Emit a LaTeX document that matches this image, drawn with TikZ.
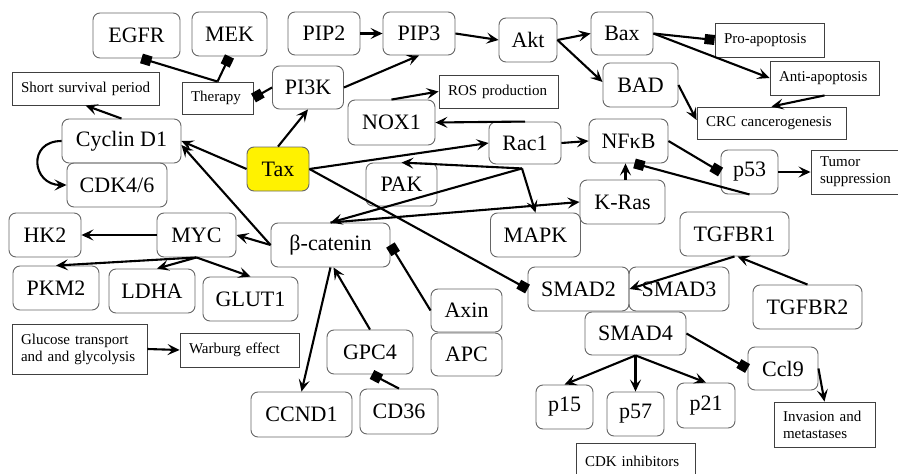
\documentclass[tikz,border=0pt]{standalone}
\usepackage{fontspec}
\setmainfont{Liberation Serif}
\usetikzlibrary{arrows.meta}
\begin{document}
\begin{tikzpicture}[x=1pt,y=-1pt,
  box/.style={draw=black!60, line width=0.9pt, rounded corners=7pt, inner sep=0pt,
              font=\fontsize{22}{24}\selectfont, align=center},
  sz/.style 2 args={minimum width=#1pt, minimum height=#2pt},
  tag/.style={draw=black!75, line width=0.9pt, inner xsep=9pt, inner ysep=0pt,
              font=\fontsize{15}{17}\selectfont, align=left},
  tw/.style 2 args={text width=#1pt, minimum height=#2pt},
  link/.style={line width=2.1pt, -{Stealth[length=12pt,width=11pt,inset=5pt]}},
  block/.style={line width=2.1pt, -{Square[length=10pt,width=10pt]}},
]
\useasboundingbox (0,0) rectangle (898,474);

% signalling molecules
\node[box,sz={87}{45}] (egfr) at (136.5,35.5) {EGFR};
\node[box,sz={75}{44}] (mek) at (229.5,34) {MEK};
\node[box,sz={72}{43}] (pip2) at (324,33.5) {PIP2};
\node[box,sz={72}{43}] (pip3) at (419,33.5) {PIP3};
\node[box,sz={58}{44}] (akt) at (528,40) {Akt};
\node[box,sz={62}{43}] (bax) at (622,33.5) {Bax};
\node[box,sz={75}{44}] (bad) at (640.5,85) {BAD};
\node[box,sz={71}{43}] (pi3k) at (308,87.5) {PI3K};
\node[box,sz={87}{45}] (nox) at (391.5,122.5) {NOX1};
\node[box,sz={72}{42}] (rac) at (525,143) {Rac1};
\node[box,sz={79}{44}] (nfkb) at (628.5,141) {NFκB};
\node[box,sz={85}{44}] (kras) at (622.5,202) {K-Ras};
\node[box,sz={90}{44}] (mapk) at (535.5,235) {MAPK};
\node[box,sz={71}{43}] (pak) at (401.5,184.5) {PAK};
\node[box,sz={62}{44},fill=yellow] (tax) at (278,169) {Tax};
\node[box,sz={119}{44}] (bcat) at (330.5,245) {β-catenin};
\node[box,sz={79}{44}] (myc) at (196.5,235) {MYC};
\node[box,sz={119}{44}] (cyc) at (121.5,141) {Cyclin D1};
\node[box,sz={100}{44}] (cdk) at (117,185) {CDK4/6};
\node[box,sz={72}{44}] (hk2) at (45,235) {HK2};
\node[box,sz={86}{44}] (pkm2) at (56,288) {PKM2};
\node[box,sz={86}{44}] (ldha) at (152,291) {LDHA};
\node[box,sz={95}{44}] (glut) at (250.5,299) {GLUT1};
\node[box,sz={57}{44}] (p53) at (749.5,172) {p53};
\node[box,sz={109}{44}] (tgfbr1) at (734.5,234) {TGFBR1};
\node[box,sz={100}{44}] (smad3) at (679,289) {SMAD3};
\node[box,sz={101}{44}] (smad2) at (578.5,289) {SMAD2};
\node[box,sz={109}{44}] (tgfbr2) at (807.5,307) {TGFBR2};
\node[box,sz={101}{43}] (smad4) at (635.5,333.5) {SMAD4};
\node[box,sz={71}{43}] (axin) at (466.5,310.5) {Axin};
\node[box,sz={71}{43}] (apc) at (466.5,354.5) {APC};
\node[box,sz={86}{44}] (gpc4) at (370,352) {GPC4};
\node[box,sz={78}{45}] (cd36) at (399,411.5) {CD36};
\node[box,sz={101}{45}] (ccnd1) at (301.5,414.5) {CCND1};
\node[box,sz={57}{44}] (p15) at (564.5,407) {p15};
\node[box,sz={57}{44}] (p57) at (635.5,414) {p57};
\node[box,sz={58}{45}] (p21) at (706,405.5) {p21};
\node[box,sz={70}{43}] (ccl9) at (783,368.5) {Ccl9};

% outcomes
\node[tag,tw={129}{33}] (ssp) at (85.5,88.5) {\mbox{Short survival period}};
\node[tag,tw={53}{32}] (ther) at (217.5,98) {\mbox{Therapy}};
\node[tag,tw={101}{33}] (ros) at (498.5,91.5) {\mbox{ROS production}};
\node[tag,tw={91}{34}] (pro) at (769.5,40) {\mbox{Pro-apoptosis}};
\node[tag,tw={91}{34}] (anti) at (824.5,78) {\mbox{Anti-apoptosis}};
\node[tag,tw={131}{32}] (crc) at (771.5,123) {\mbox{CRC cancerogenesis}};
\node[tag,tw={73}{44}] (tum) at (856.5,172) {\mbox{Tumor}\\\mbox{suppression}};
\node[tag,tw={117}{50}] (glu) at (79.5,349) {\mbox{Glucose transport}\\\mbox{and and glycolysis}};
\node[tag,tw={101}{34}] (war) at (239.5,350) {\mbox{Warburg effect}};
\node[tag,tw={83}{45}] (inv) at (824.5,424.5) {\mbox{Invasion and}\\\mbox{metastases}};
\node[tag,tw={101}{37}] (cdki) at (635.5,461.5) {\mbox{CDK inhibitors}};

% PI3K / Akt branch
\draw[link] (pip2.east) -- (pip3.west);
\draw[link] (pip3.east) -- (akt.west);
\draw[link] (akt.east) -- (bax.west);
\draw[link] (akt.east) -- ([yshift=3pt]bad.west);
\draw[block] (bax.east) -- (pro.west);
\draw[link] (bax.east) -- (anti.west);
\draw[link] (bad.east) -- ([yshift=3pt]crc.west);
\draw[link] (anti.south) -- (crc.north);
\draw[link] (pi3k.east) -- (pip3.south);
\draw[block] (pi3k.west) -- (ther.east);
\draw[block] (ther.north) -- ([xshift=5pt]egfr.south);
\draw[block] (ther.north) -- (mek.south);
\draw[link] (tax.north) -- (pi3k.south);

% cell cycle
\draw[link] (tax.west) -- (cyc.east);
\draw[link] (bcat.west) -- ([yshift=-4pt]cyc.east);
\draw[link] (cyc.north) -- (ssp.south);
\draw[link] (cyc.west) to[out=180,in=180,looseness=2] (cdk.west);

% Rac1 branch
\draw[link] (nox.north) -- (ros.west);
\draw[link] (rac.north) -- (nox.east);
\draw[link] (tax.east) -- (rac.west);
\draw[link] (rac.east) -- (nfkb.west);
\coordinate (hub) at ([xshift=-3pt,yshift=-4pt]rac.south);
\draw[link] (hub) -- (pak.north);
\draw[link] (hub) -- (mapk.north);
\draw[link] (hub) -- (bcat.north);
\draw[link] (bcat.north) -- (kras.west);
\draw[link] ([xshift=3pt]kras.north) -- ([xshift=-3pt]nfkb.south);
\draw[block] (p53.south) -- ([xshift=6pt]nfkb.south);
\draw[block] (nfkb.east) -- (p53.west);
\draw[link] (p53.east) -- (tum.west);

% Wnt / beta-catenin branch
\draw[block] (tax.east) -- (smad2.west);
\draw[block] (axin.west) -- (bcat.east);
\draw[link] (gpc4.north) -- ([xshift=3pt]bcat.south);
\draw[link] (bcat.south) -- (ccnd1.north);
\draw[block] (cd36.north) -- ([xshift=2pt]gpc4.south);
\draw[link] (bcat.west) -- (myc.east);
\draw[link] (myc.west) -- (hk2.east);
\draw[link] (myc.south) -- (pkm2.north);
\draw[link] (myc.south) -- ([xshift=5pt]ldha.north);
\draw[link] (myc.south) -- (glut.north);
\draw[link] (glu.east) -- (war.west);

% TGF-beta branch
\draw[link] (tgfbr1.south) -- (smad2.east);
\draw[link] (tgfbr2.north) -- ([xshift=3pt]tgfbr1.south);
\draw[link] (smad4.south) -- (p15.north);
\draw[link] (smad4.south) -- (p57.north);
\draw[link] (smad4.south) -- (p21.north);
\draw[block] (smad4.east) -- (ccl9.west);
\draw[link] (ccl9.east) -- (inv.north);
\end{tikzpicture}
\end{document}
